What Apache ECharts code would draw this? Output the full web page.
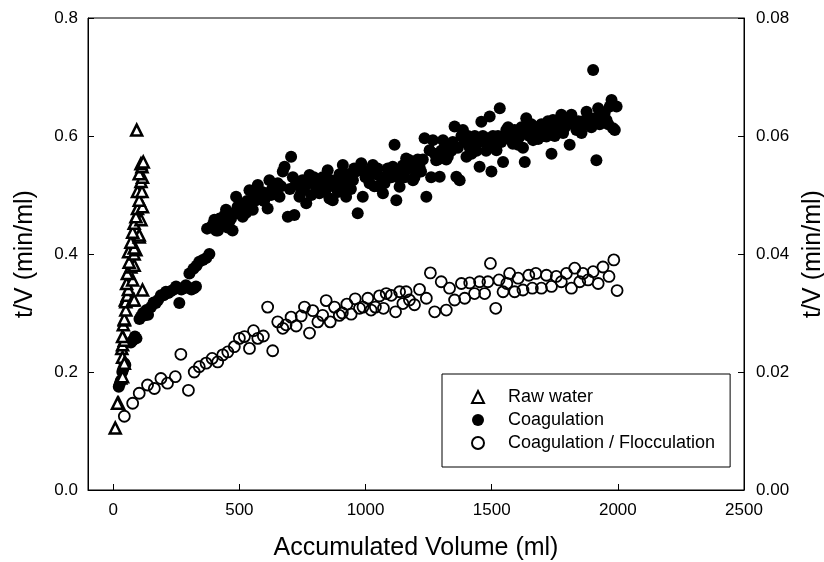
<!DOCTYPE html>
<html>
<head>
<meta charset="utf-8">
<title>t/V vs accumulated volume</title>
<script src="https://cdn.jsdelivr.net/npm/echarts@6/dist/echarts.min.js"></script>
<style>
    html, body { margin: 0; padding: 0; background: #fff; }
    #chart-1 { width: 824px; height: 562px; }
</style>
</head>
<body>
<div id="chart-1"></div>
<script>
// ----------------------- data
var seriesNames = ['Raw water', 'Coagulation', 'Coagulation / Flocculation'];
var xTicks = [0, 500, 1000, 1500, 2000, 2500];

// [accumulated volume (ml), t/V (min/ml)]
var rawWater = [
    [8, 0.105], [21, 0.147], [17, 0.147], [30, 0.19], [37, 0.192], [34, 0.24], [37, 0.225],
    [44, 0.215], [37, 0.246], [44, 0.254], [37, 0.26], [40, 0.28], [44, 0.288], [44, 0.29],
    [50, 0.305], [48, 0.322], [50, 0.319], [56, 0.33], [77, 0.322], [83, 0.322], [116, 0.339],
    [60, 0.34], [53, 0.35], [77, 0.356], [56, 0.367], [70, 0.378], [83, 0.381], [63, 0.386],
    [61, 0.404], [83, 0.40], [90, 0.407], [83, 0.41], [70, 0.42], [103, 0.429], [103, 0.432],
    [77, 0.437], [83, 0.452], [110, 0.458], [90, 0.463], [96, 0.477], [116, 0.48], [103, 0.491],
    [96, 0.506], [114, 0.506], [110, 0.523], [116, 0.53], [103, 0.536], [114, 0.548],
    [110, 0.553], [119, 0.556], [93, 0.61]
];

var coagulation = [
    [22, 0.175], [26, 0.18], [30, 0.185], [36, 0.2], [40, 0.205], [44, 0.215], [48, 0.212],
    [70, 0.25], [78, 0.254], [86, 0.26], [92, 0.257], [104, 0.29], [110, 0.294], [118, 0.3],
    [126, 0.296], [132, 0.305], [138, 0.297], [150, 0.31], [160, 0.318], [169, 0.317],
    [178, 0.322], [189, 0.33], [200, 0.33], [209, 0.336], [218, 0.334], [228, 0.337],
    [240, 0.34], [249, 0.345], [262, 0.317], [270, 0.34], [280, 0.342], [288, 0.347],
    [298, 0.343], [310, 0.34], [320, 0.342], [328, 0.345], [302, 0.367], [318, 0.375],
    [330, 0.38], [341, 0.387], [355, 0.39], [368, 0.393], [381, 0.40],
    [372, 0.443], [385, 0.445], [395, 0.45], [401, 0.458], [408, 0.44], [415, 0.44],
    [422, 0.46], [434, 0.449], [440, 0.465], [447, 0.475], [453, 0.445], [460, 0.455],
    [467, 0.46], [473, 0.44], [480, 0.47], [487, 0.497], [493, 0.48], [500, 0.469],
    [507, 0.485], [513, 0.463], [520, 0.485], [527, 0.47], [530, 0.49], [540, 0.508],
    [547, 0.49], [553, 0.475], [560, 0.5], [566, 0.491], [573, 0.517], [580, 0.5],
    [590, 0.505], [598, 0.49], [606, 0.503], [612, 0.477], [619, 0.525], [625, 0.5],
    [630, 0.51], [640, 0.505], [645, 0.515], [652, 0.52], [659, 0.497], [665, 0.515],
    [672, 0.54], [679, 0.548], [692, 0.463], [700, 0.51], [705, 0.565], [712, 0.53],
    [718, 0.466], [725, 0.52], [731, 0.517], [738, 0.497], [745, 0.505], [750, 0.525],
    [760, 0.515], [765, 0.486], [778, 0.534], [785, 0.50], [790, 0.52], [795, 0.53],
    [804, 0.514], [810, 0.525], [817, 0.503], [825, 0.505], [830, 0.53], [840, 0.52],
    [845, 0.51], [850, 0.542], [857, 0.494], [863, 0.525], [870, 0.491], [875, 0.515],
    [884, 0.52], [890, 0.505], [897, 0.535], [903, 0.525], [910, 0.551], [915, 0.515],
    [923, 0.497], [928, 0.535], [935, 0.53], [942, 0.51], [950, 0.525], [955, 0.545],
    [962, 0.54], [969, 0.469], [976, 0.545], [983, 0.554], [989, 0.497], [995, 0.54],
    [1000, 0.53], [1008, 0.53], [1016, 0.52], [1022, 0.545], [1029, 0.551], [1035, 0.515],
    [1042, 0.535], [1048, 0.545], [1055, 0.514], [1062, 0.53], [1069, 0.503], [1075, 0.52],
    [1082, 0.531], [1088, 0.545], [1095, 0.54], [1102, 0.53], [1108, 0.548], [1115, 0.585],
    [1122, 0.491], [1128, 0.53], [1135, 0.514], [1141, 0.54], [1148, 0.55], [1155, 0.53],
    [1161, 0.562], [1168, 0.545], [1174, 0.559], [1181, 0.55], [1188, 0.525], [1194, 0.53],
    [1200, 0.545], [1207, 0.56], [1214, 0.548], [1220, 0.54], [1227, 0.56], [1234, 0.596],
    [1241, 0.497], [1254, 0.576], [1260, 0.53], [1267, 0.593], [1274, 0.57], [1280, 0.559],
    [1287, 0.56], [1294, 0.531], [1300, 0.575], [1307, 0.593], [1313, 0.58], [1320, 0.56],
    [1326, 0.565], [1333, 0.576], [1340, 0.575], [1346, 0.59], [1353, 0.616], [1360, 0.531],
    [1366, 0.58], [1373, 0.525], [1380, 0.6], [1386, 0.61], [1393, 0.59], [1400, 0.565],
    [1406, 0.6], [1413, 0.58], [1420, 0.57], [1426, 0.587], [1433, 0.6], [1440, 0.575],
    [1446, 0.59], [1452, 0.548], [1459, 0.624], [1465, 0.6], [1472, 0.59], [1478, 0.575],
    [1485, 0.596], [1492, 0.633], [1499, 0.54], [1505, 0.6], [1510, 0.585], [1519, 0.576],
    [1525, 0.6], [1532, 0.647], [1538, 0.59], [1545, 0.556], [1551, 0.6], [1558, 0.61],
    [1565, 0.615], [1571, 0.595], [1578, 0.6], [1584, 0.587], [1591, 0.61], [1598, 0.605],
    [1605, 0.585], [1611, 0.599], [1618, 0.615], [1624, 0.58], [1631, 0.556], [1637, 0.63],
    [1644, 0.605], [1650, 0.6], [1657, 0.62], [1664, 0.593], [1670, 0.6], [1677, 0.615],
    [1684, 0.595], [1690, 0.61], [1697, 0.62], [1704, 0.6], [1710, 0.61], [1717, 0.599],
    [1723, 0.625], [1730, 0.615], [1737, 0.57], [1743, 0.627], [1750, 0.6], [1756, 0.61],
    [1763, 0.62], [1770, 0.62], [1776, 0.636], [1783, 0.605], [1790, 0.615], [1796, 0.63],
    [1803, 0.625], [1809, 0.585], [1816, 0.636], [1823, 0.62], [1836, 0.61], [1843, 0.625],
    [1850, 0.62], [1856, 0.605], [1862, 0.625], [1869, 0.62], [1876, 0.641], [1882, 0.63],
    [1889, 0.62], [1895, 0.615], [1902, 0.712], [1908, 0.63], [1915, 0.559], [1922, 0.647],
    [1928, 0.62], [1935, 0.625], [1941, 0.633], [1948, 0.64], [1955, 0.627], [1962, 0.62],
    [1968, 0.65], [1975, 0.661], [1981, 0.613], [1988, 0.61], [1995, 0.65]
];

var coagFloc = [
    [44, 0.125], [77, 0.147], [103, 0.164], [136, 0.178], [163, 0.172], [189, 0.189],
    [215, 0.181], [246, 0.192], [268, 0.23], [298, 0.169], [321, 0.2], [341, 0.209],
    [368, 0.215], [392, 0.223], [414, 0.217], [434, 0.229], [454, 0.234], [480, 0.243],
    [500, 0.257], [520, 0.26], [540, 0.24], [556, 0.27], [573, 0.257], [595, 0.261],
    [612, 0.31], [632, 0.236], [652, 0.285], [672, 0.274], [685, 0.28], [705, 0.293],
    [725, 0.278], [745, 0.295], [758, 0.31], [778, 0.266], [791, 0.304], [811, 0.285],
    [830, 0.296], [844, 0.321], [860, 0.285], [877, 0.31], [896, 0.296], [908, 0.30],
    [926, 0.315], [943, 0.298], [959, 0.324], [976, 0.308], [990, 0.31], [1009, 0.325],
    [1022, 0.305], [1039, 0.31], [1055, 0.329], [1071, 0.308], [1082, 0.333], [1102, 0.33],
    [1119, 0.302], [1135, 0.336], [1148, 0.316], [1161, 0.336], [1174, 0.322], [1194, 0.314],
    [1214, 0.34], [1241, 0.325], [1257, 0.368], [1274, 0.302], [1300, 0.353], [1320, 0.305],
    [1333, 0.342], [1353, 0.322], [1380, 0.35], [1393, 0.325], [1413, 0.351], [1432, 0.333],
    [1452, 0.353], [1472, 0.333], [1485, 0.353], [1495, 0.384], [1516, 0.308], [1529, 0.356],
    [1545, 0.336], [1560, 0.35], [1571, 0.367], [1591, 0.336], [1605, 0.359], [1624, 0.339],
    [1647, 0.364], [1661, 0.342], [1675, 0.367], [1697, 0.342], [1717, 0.364], [1737, 0.345],
    [1756, 0.362], [1776, 0.353], [1796, 0.367], [1816, 0.342], [1829, 0.376], [1849, 0.353],
    [1862, 0.367], [1882, 0.356], [1902, 0.37], [1922, 0.35], [1941, 0.378], [1965, 0.362],
    [1984, 0.39], [1997, 0.338]
];

// ----------------------- chart
var FONT = '"Liberation Sans", Arial, sans-serif';
var chart_1 = echarts.init(document.getElementById('chart-1'));

var option_1 = {
    animation: false,
    backgroundColor: '#fff',
    textStyle: { fontFamily: FONT, color: '#000' },
    grid: {
        left: 88,
        right: 80,
        top: 18,
        bottom: 72,
        outerBoundsMode: 'none',
        show: true,
        borderColor: '#000',
        borderWidth: 1
    },
    legend: {
        orient: 'vertical',
        left: 442,
        top: 374,
        padding: [14, 15, 15, 29],
        itemGap: 5,
        itemWidth: 12,
        itemHeight: 12,
        borderColor: '#000',
        borderWidth: 1,
        textStyle: { fontFamily: FONT, fontSize: 18, color: '#000', padding: [0, 0, 0, 19] },
        data: seriesNames
    },
    xAxis: {
        type: 'value',
        min: -100,
        max: 2500,
        name: 'Accumulated Volume (ml)',
        nameLocation: 'middle',
        nameGap: 46,
        nameTextStyle: { fontFamily: FONT, fontSize: 25, color: '#000' },
        axisLine: { onZero: false, lineStyle: { color: '#000', width: 1 } },
        axisTick: { inside: true, length: 6, customValues: xTicks, lineStyle: { color: '#000' } },
        axisLabel: {
            customValues: xTicks, fontFamily: FONT, fontSize: 17, color: '#000', margin: 12,
            formatter: function (v) { return String(v); }
        },
        splitLine: { show: false }
    },
    yAxis: [
        {
            type: 'value',
            min: 0,
            max: 0.8,
            interval: 0.2,
            name: 't/V (min/ml)',
            nameLocation: 'middle',
            nameRotate: 90,
            nameGap: 50,
            nameTextStyle: { fontFamily: FONT, fontSize: 25, color: '#000' },
            axisLine: { show: true, onZero: false, lineStyle: { color: '#000' } },
            axisTick: { inside: true, length: 6, lineStyle: { color: '#000' } },
            axisLabel: {
                fontFamily: FONT, fontSize: 17, color: '#000', margin: 10,
                formatter: function (v) { return v.toFixed(1); }
            },
            splitLine: { show: false }
        },
        {
            type: 'value',
            position: 'right',
            min: 0,
            max: 0.08,
            interval: 0.02,
            name: 't/V (min/ml)',
            nameLocation: 'middle',
            nameRotate: 90,
            nameGap: 57,
            nameTextStyle: { fontFamily: FONT, fontSize: 25, color: '#000' },
            axisLine: { show: true, onZero: false, lineStyle: { color: '#000' } },
            axisTick: { inside: true, length: 6, lineStyle: { color: '#000' } },
            axisLabel: {
                fontFamily: FONT, fontSize: 17, color: '#000', margin: 12,
                formatter: function (v) { return v.toFixed(2); }
            },
            splitLine: { show: false }
        }
    ],
    series: [
        {
            name: seriesNames[0],
            type: 'scatter',
            symbol: 'triangle',
            symbolSize: 11,
            z: 4,
            itemStyle: { color: '#fff', borderColor: '#000', borderWidth: 2.5, opacity: 1 },
            data: rawWater
        },
        {
            name: seriesNames[1],
            type: 'scatter',
            symbol: 'circle',
            symbolSize: 12,
            z: 3,
            itemStyle: { color: '#000', borderColor: '#000', borderWidth: 0, opacity: 1 },
            data: coagulation
        },
        {
            name: seriesNames[2],
            type: 'scatter',
            symbol: 'circle',
            symbolSize: 11,
            z: 2,
            itemStyle: { color: 'rgba(255,255,255,0)', borderColor: '#000', borderWidth: 1.8, opacity: 1 },
            data: coagFloc
        }
    ]
};

chart_1.setOption(option_1);
</script>
</body>
</html>
